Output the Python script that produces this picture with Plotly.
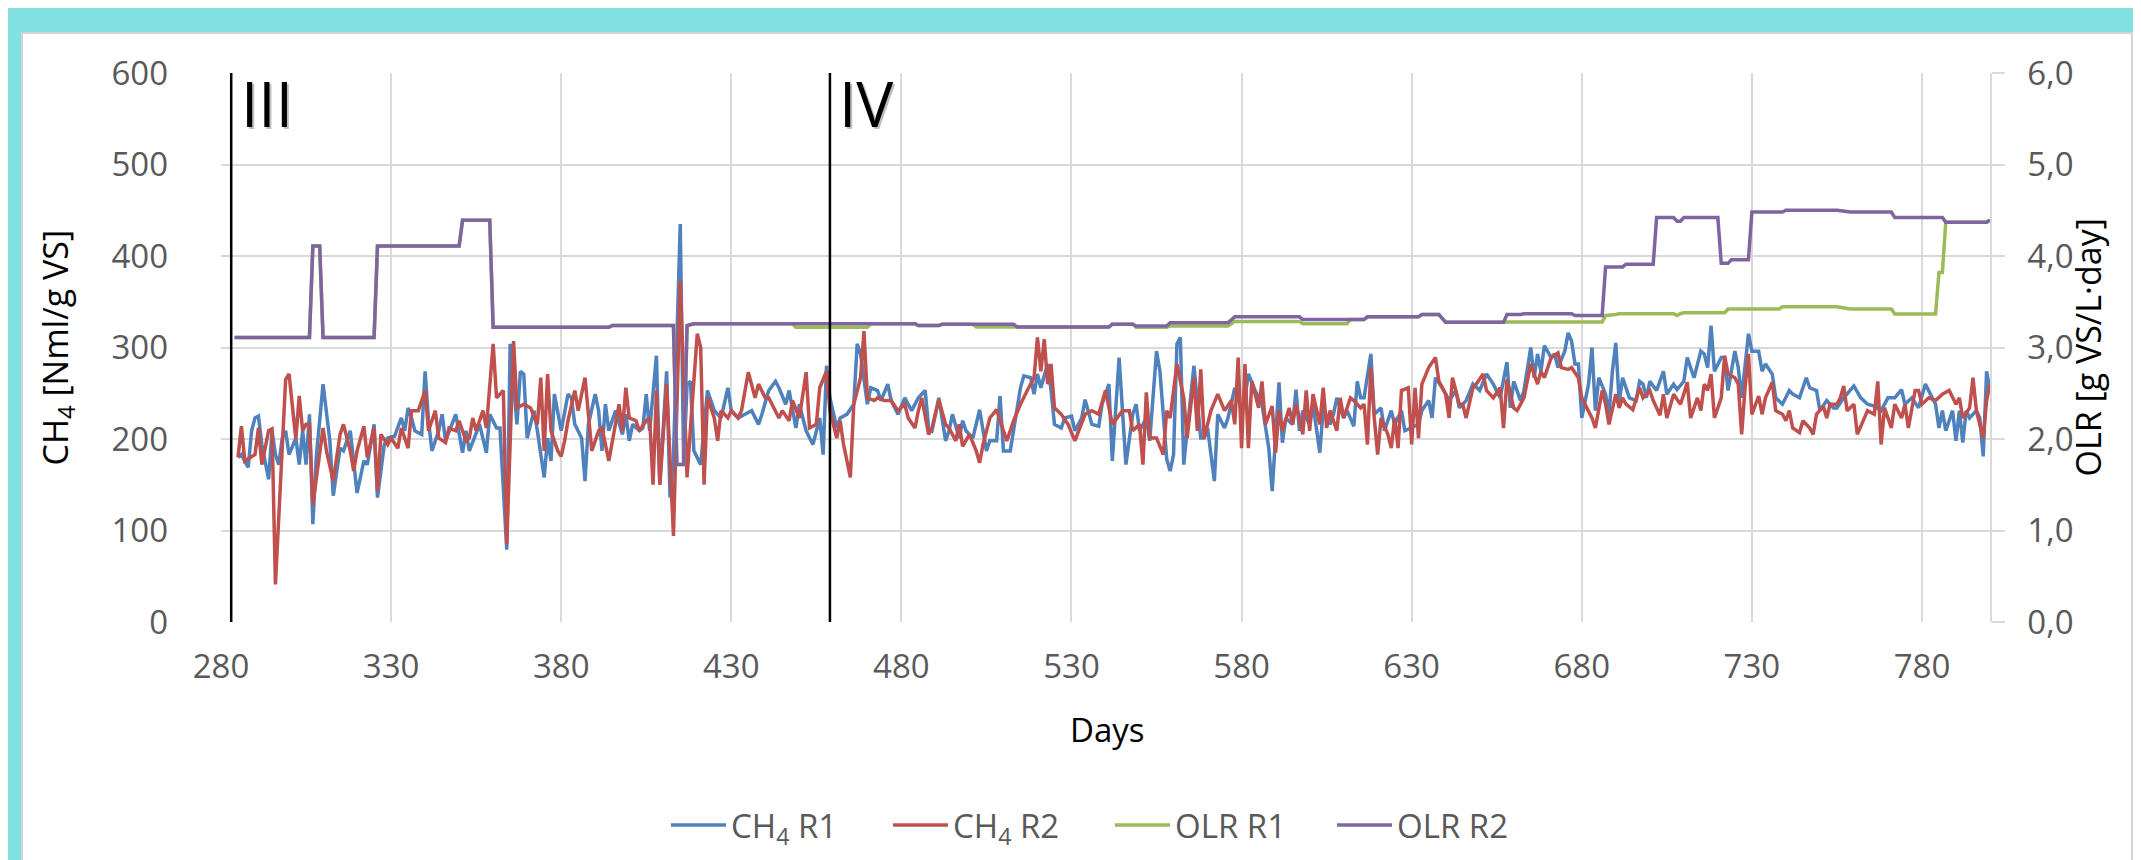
import plotly.graph_objects as go

# ---------------- data ----------------
ch4_r1_days = [285,286,288,289,290,291,292,294,295,296,297,298,299,300,302,303,304,305,306,307,308,310,312,313,315,316,318,320,322,323,325,326,328,329,331,333,334,335,336,337,339,340,341,342,344,345,346,348,349,351,352,353,355,356,358,359,361,362,364,365,367,368,369,370,372,373,375,376,377,378,380,382,383,384,386,387,388,390,391,392,393,394,396,398,399,400,401,403,404,405,406,408,409,411,412,413,415,416,417,418,419,421,423,425,427,429,430,432,434,436,438,439,441,443,444,446,447,449,450,452,454,456,457,458,459,461,462,464,466,467,468,470,471,473,474,476,477,479,481,483,485,487,488,489,491,493,494,495,497,498,499,501,503,505,506,508,509,510,512,513,515,516,518,519,520,521,523,524,525,527,528,530,531,533,534,536,538,539,541,542,544,546,548,549,550,552,553,555,556,558,559,560,561,562,563,564,566,568,569,570,572,573,575,576,578,580,581,582,584,586,587,588,589,591,592,593,595,596,597,598,600,601,603,604,606,607,608,610,611,613,614,615,616,618,619,621,622,624,625,627,628,630,632,633,635,636,637,639,641,643,644,646,648,650,652,654,656,658,659,660,662,663,665,666,667,668,669,671,672,673,675,676,677,678,679,680,682,683,684,685,687,688,689,690,691,692,694,696,697,698,699,700,702,704,705,707,708,710,711,713,715,716,717,718,719,721,722,723,725,726,727,729,730,732,733,734,736,737,739,741,742,744,746,747,749,750,752,754,755,757,758,760,762,764,766,768,770,772,774,775,777,779,781,783,784,785,786,787,789,790,791,792,793,794,796,797,798,799,800]
ch4_r1 = [180,183,169,209,223,225,194,156,209,183,172,201,209,183,201,172,209,172,227,107,180,260,198,138,190,187,209,141,176,172,216,136,194,201,203,223,209,234,223,209,205,274,220,187,209,227,198,216,227,185,209,187,205,216,185,227,212,212,79,304,216,274,271,201,231,209,158,201,176,249,209,249,245,216,201,154,216,249,231,187,238,209,231,205,227,198,216,209,212,249,209,291,150,274,136,180,435,172,260,263,187,172,253,231,223,256,231,223,227,231,216,227,253,263,256,238,253,212,238,209,194,223,183,280,245,212,223,227,238,304,293,238,256,253,242,260,242,227,245,231,245,253,212,209,245,198,209,227,201,220,209,201,232,187,198,198,247,187,187,212,256,269,267,249,271,256,282,253,216,212,223,225,209,223,243,216,214,238,260,176,289,172,227,238,209,223,198,296,274,178,165,183,304,311,172,209,280,201,201,212,154,227,212,223,256,231,245,271,253,238,214,190,143,262,196,223,216,254,209,231,216,238,185,234,216,227,245,223,231,214,263,245,245,293,227,234,209,231,216,231,209,212,216,231,242,223,267,256,242,253,234,242,260,253,271,260,245,284,234,263,242,253,300,267,293,274,302,289,293,278,296,316,307,282,282,223,260,300,231,267,249,227,274,305,240,267,245,242,263,260,245,263,253,274,249,260,254,263,289,267,296,293,278,324,274,289,289,253,296,278,245,315,296,296,274,282,271,245,238,253,249,245,267,256,253,231,242,234,234,245,249,258,245,238,236,231,245,245,254,238,245,234,260,245,238,212,231,209,231,198,231,196,231,223,231,223,181,274,253]

ch4_r2_days = [285,286,287,289,290,291,292,294,295,296,299,300,302,303,304,305,306,307,308,310,311,313,315,316,318,319,320,322,323,325,326,327,329,330,332,333,335,336,338,340,341,343,344,346,347,349,350,352,353,354,355,357,358,360,361,363,364,366,367,369,371,373,374,375,376,377,379,380,381,382,384,385,387,389,391,392,394,397,398,399,400,402,403,405,406,407,408,409,411,412,413,415,417,418,420,421,422,423,425,426,427,429,430,432,433,435,437,438,440,441,442,444,445,447,448,450,452,453,455,456,458,459,461,462,463,465,466,468,469,470,472,473,475,477,479,481,482,484,485,486,488,489,491,493,494,496,497,498,500,502,503,504,506,508,510,511,513,515,517,519,520,521,522,523,524,525,527,529,531,533,534,536,538,540,542,545,547,548,550,551,552,553,555,557,558,559,561,563,564,566,567,568,569,571,573,575,577,578,579,580,581,582,583,585,586,587,589,590,591,592,594,595,596,598,599,600,601,603,604,605,606,608,609,610,612,613,615,616,617,618,619,620,621,623,624,625,626,627,629,630,631,632,633,635,637,638,640,641,642,644,645,646,648,649,651,652,654,656,657,658,660,661,663,665,667,668,669,671,673,674,676,677,679,680,682,683,684,686,687,688,690,691,692,693,695,697,698,700,701,703,704,705,707,709,710,711,712,714,715,716,717,718,719,721,722,723,725,726,727,728,729,730,732,733,734,736,737,739,740,741,742,744,745,747,748,749,751,752,753,755,756,757,758,760,761,763,764,766,767,768,769,771,772,774,775,776,778,779,780,782,784,786,788,790,791,792,794,795,796,798,799,800]
ch4_r2 = [180,214,176,181,183,212,172,209,211,41,265,271,200,247,209,216,216,128,154,212,187,154,205,216,187,165,187,214,180,212,143,205,194,201,190,212,190,231,231,253,209,231,201,196,212,209,220,198,201,223,209,231,212,304,245,253,85,307,234,238,234,216,267,187,271,209,187,181,198,220,253,231,267,187,209,212,176,238,209,256,223,220,209,220,223,150,253,150,260,172,94,373,158,212,315,300,150,245,223,198,231,223,231,223,231,273,245,260,245,245,238,223,231,220,242,223,273,212,216,256,274,231,201,220,194,158,238,267,318,245,242,245,242,242,231,238,223,212,231,245,205,212,243,216,212,198,216,192,205,187,174,194,223,232,209,198,220,238,253,267,311,274,309,260,282,234,227,216,198,216,227,231,227,253,216,231,231,209,216,172,251,201,201,183,231,223,282,245,201,267,209,276,201,231,249,231,242,216,289,190,282,190,263,234,263,216,236,185,231,209,234,216,238,205,253,209,249,216,256,212,231,209,245,223,245,242,234,238,194,278,223,183,223,205,190,223,190,253,256,194,256,201,260,278,289,263,249,223,267,238,238,223,256,260,271,253,245,256,212,265,234,231,245,282,260,274,267,289,294,278,276,278,267,245,231,223,212,253,238,216,249,234,245,238,232,256,245,253,242,226,249,223,249,238,249,262,223,245,231,260,253,271,223,245,291,271,267,260,205,256,293,227,247,227,245,262,231,227,220,231,212,207,220,212,205,227,236,223,238,238,245,258,231,238,205,223,231,227,263,194,234,212,238,223,238,212,253,253,238,245,242,249,253,238,245,223,234,267,231,201,242,260]

olr_r1_days = [284,306,307,309,310,325,326,350,351,359,360,394,395,413,414,416,417,419,448,449,470,471,484,485,491,492,501,502,541,542,548,549,558,559,576,578,597,598,611,612,616,617,632,633,638,640,657,658,686,687,690,691,707,708,709,710,722,723,738,739,755,759,771,772,784,785,786,787,799,800]
olr_r1 = [3.11,3.11,4.11,4.11,3.11,3.11,4.11,4.11,4.39,4.39,3.22,3.22,3.24,3.24,1.72,1.72,3.24,3.26,3.26,3.22,3.22,3.26,3.26,3.24,3.24,3.255,3.255,3.225,3.225,3.255,3.255,3.22,3.22,3.235,3.235,3.285,3.285,3.26,3.26,3.305,3.305,3.335,3.335,3.36,3.36,3.275,3.275,3.28,3.28,3.35,3.36,3.37,3.37,3.35,3.37,3.38,3.38,3.42,3.42,3.445,3.445,3.42,3.42,3.365,3.365,3.82,3.82,4.37,4.37,4.39]

olr_r2_days = [284,306,307,309,310,325,326,350,351,359,360,394,395,413,414,416,417,419,484,485,491,492,513,514,541,542,548,549,558,559,576,578,597,598,616,617,632,633,638,640,657,658,662,663,677,678,686,687,692,693,701,702,707,708,709,710,720,721,723,724,729,730,739,740,755,759,771,772,786,787,799,800]
olr_r2 = [3.11,3.11,4.11,4.11,3.11,3.11,4.11,4.11,4.39,4.39,3.22,3.22,3.24,3.24,1.72,1.72,3.24,3.26,3.26,3.24,3.24,3.255,3.255,3.225,3.225,3.255,3.255,3.235,3.235,3.27,3.27,3.335,3.335,3.305,3.305,3.335,3.335,3.36,3.36,3.275,3.275,3.36,3.36,3.37,3.37,3.35,3.35,3.88,3.88,3.91,3.91,4.42,4.42,4.38,4.38,4.42,4.42,3.92,3.92,3.96,3.96,4.48,4.48,4.5,4.5,4.48,4.48,4.42,4.42,4.37,4.37,4.39]

phase_days = [283, 459]
phase_labels = ["III", "IV"]
phase_label_days = [293.5, 469.5]

x_ticks = [280, 330, 380, 430, 480, 530, 580, 630, 680, 730, 780]

# ---------------- style ----------------
W, H = 2141, 860
L, R, T, B = 213, 1982, 65, 614
PW, PH = R - L, B - T
FONT = "Open Sans"
TICK = "#595959"
GRID = "#D9D9D9"
CYAN = "#82E1E0"
LW = 3.5

def px_x(px):
    return (px - L) / PW

def px_y(py):
    return (B - py) / PH

fig = go.Figure()
fig.add_trace(go.Scatter(x=ch4_r1_days, y=ch4_r1, mode="lines", name="CH<sub>4</sub> R1",
                         line=dict(color="#4F81BD", width=LW)))
fig.add_trace(go.Scatter(x=ch4_r2_days, y=ch4_r2, mode="lines", name="CH<sub>4</sub> R2",
                         line=dict(color="#C0504D", width=LW)))
fig.add_trace(go.Scatter(x=olr_r1_days, y=olr_r1, mode="lines", name="OLR R1", yaxis="y2",
                         line=dict(color="#9BBB59", width=LW)))
fig.add_trace(go.Scatter(x=olr_r2_days, y=olr_r2, mode="lines", name="OLR R2", yaxis="y2",
                         line=dict(color="#8064A2", width=LW)))

shapes = [
    dict(type="rect", xref="paper", yref="paper", x0=px_x(14), x1=px_x(2124),
         y0=px_y(880), y1=px_y(25), fillcolor="white", line=dict(color="#D4D4D4", width=2),
         layer="below"),
]
for d in phase_days:
    shapes.append(dict(type="line", xref="x", yref="y", x0=d, x1=d, y0=0, y1=600,
                       line=dict(color="black", width=2.5), layer="above"))

annotations = []
for d, t in zip(phase_label_days, phase_labels):
    annotations.append(dict(x=d, y=567, xref="x", yref="y", text=t, showarrow=False,
                            xshift=2, yshift=-2,
                            font=dict(family=FONT, size=62, color="rgba(0,0,0,0.25)")))
    annotations.append(dict(x=d, y=567, xref="x", yref="y", text=t, showarrow=False,
                            font=dict(family=FONT, size=62, color="black")))

annotations += [
    dict(x=px_x(48), y=0.5, xref="paper", yref="paper", text="CH<sub>4</sub> [Nml/g VS]",
         textangle=-90, showarrow=False, xanchor="center", yanchor="middle",
         font=dict(family=FONT, size=34, color="black")),
    dict(x=px_x(2079), y=0.5, xref="paper", yref="paper", text="OLR [g VS/L·day]",
         textangle=-90, showarrow=False, xanchor="center", yanchor="middle",
         font=dict(family=FONT, size=34, color="black")),
    dict(x=px_x(1099), y=px_y(721), xref="paper", yref="paper", text="Days",
         showarrow=False, xanchor="center", yanchor="middle",
         font=dict(family=FONT, size=33, color="black")),
]

fig.update_layout(
    width=W, height=H,
    margin=dict(l=L, r=W - R, t=T, b=H - B, autoexpand=False),
    paper_bgcolor=CYAN, plot_bgcolor="white",
    separators=",.",
    font=dict(family=FONT, size=33, color=TICK),
    shapes=shapes, annotations=annotations,
    showlegend=True,
    legend=dict(orientation="h", x=px_x(1102), xanchor="center", y=px_y(817), yanchor="middle",
                font=dict(family=FONT, size=33, color=TICK), bgcolor="rgba(0,0,0,0)",
                entrywidth=152, entrywidthmode="pixels", itemwidth=55),
    xaxis=dict(range=[280, 800], tickmode="array", tickvals=x_ticks,
               showgrid=True, gridcolor=GRID, gridwidth=1.5, zeroline=False, showline=False,
               ticks="", ticklabelstandoff=22, tickfont=dict(family=FONT, size=33, color=TICK)),
    yaxis=dict(range=[0, 600], dtick=100, tick0=0, showgrid=True, gridcolor=GRID, gridwidth=1.5,
               zeroline=False, showline=False, ticks="", ticklabelstandoff=52,
               tickfont=dict(family=FONT, size=33, color=TICK)),
    yaxis2=dict(range=[0, 6], dtick=1, tick0=0, tickformat=".1f", overlaying="y", side="right",
                showgrid=False, zeroline=False, showline=True, linecolor=GRID, linewidth=1.5,
                ticks="outside", ticklen=13, tickcolor=GRID, tickwidth=1.5, ticklabelstandoff=16,
                tickfont=dict(family=FONT, size=33, color=TICK)),
)

fig.write_html("out.html")
